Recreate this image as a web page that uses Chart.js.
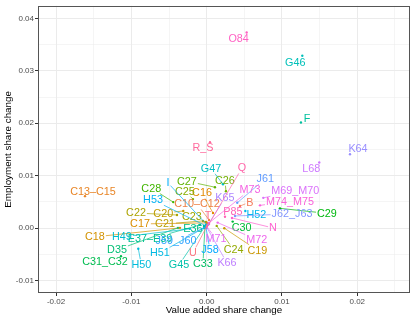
<!DOCTYPE html>
<html lang="en">
<head>
    <meta charset="UTF-8">
    <title>Value added vs employment share change</title>
    <style>
        html, body { margin: 0; padding: 0; background: #fff; }
        #wrap { width: 415px; height: 318px; }
    </style>
    <script src="https://cdn.jsdelivr.net/npm/chart.js"></script>
</head>
<body>
    <div id="wrap"><canvas id="sectorChart" width="415" height="318"></canvas></div>

    <script>
        // Sector codes (factor A is in the palette but has no point)
        const sectors = ['B', 'C10–C12', 'C13–C15', 'C16', 'C17', 'C18', 'C19', 'C20', 'C21', 'C22',
            'C23', 'C24', 'C25', 'C26', 'C27', 'C28', 'C29', 'C30', 'C31_C32', 'C33',
            'D35', 'E36', 'E37–E39', 'F', 'G45', 'G46', 'G47', 'H49', 'H50', 'H51',
            'H52', 'H53', 'I', 'J58', 'J59_J60', 'J61', 'J62_J63', 'K64', 'K65', 'K66',
            'L68', 'M69_M70', 'M71', 'M72', 'M73', 'M74_M75', 'N', 'O84', 'P85', 'Q',
            'R_S', 'T', 'U'];

        // Value added share change (x)
        const vaChange = [0.00442, 0.00031, -0.01616, 0.00084, 0.00004, -0.00355, 0.00234, -0.00311, -0.00049, -0.00394,
            -0.00010, 0.00133, -0.00182, 0.00256, 0.00110, -0.00444, 0.00973, 0.00345, -0.01138, -0.00023,
            -0.00381, -0.00036, -0.00089, 0.01252, -0.00009, 0.01270, 0.00216, -0.00222, -0.00908, -0.00036,
            0.00513, -0.00009, 0.00004, -0.00009, -0.00009, 0.00406, 0.00376, 0.01903, 0.00017, 0.00004,
            0.01495, 0.00752, 0.00004, 0.00146, 0.00031, 0.00708, 0.00336, 0.00531, 0.00243, 0.00031,
            0.00044, 0.00004, -0.00009];

        // Employment share change (y)
        const empChange = [0.00422, 0.00157, 0.00611, 0.00289, 0.00100, 0.00006, 0.00000, 0.00327, 0.00138, 0.00251,
            0.00119, 0.00043, 0.00554, 0.00705, 0.00781, 0.00497, 0.00378, 0.00125, -0.00533, 0.00025,
            0.00006, 0.00043, 0.00062, 0.02015, 0.00062, 0.03289, 0.00837, -0.00013, -0.00391, 0.00006,
            0.00327, 0.00043, 0.00062, 0.00006, 0.00025, 0.00484, 0.00233, 0.01410, 0.00062, 0.00006,
            0.01253, 0.00578, 0.00025, 0.00106, 0.00100, 0.00435, 0.00195, 0.03730, 0.00219, 0.00081,
            0.01637, 0.00043, 0.00006];

        // Repelled label placement: pixel offset of each label from its point
        const labelDx = [10, -12, 8, -11, -67, -85, 33, -20, -38, -41,
            -14, 17, -8, -1, -28, -22, 47, 9, -16, -2,
            -61, -11, -50, 6, -27, -7, -12, -68, 3, -44,
            11, -53, -39, 4, -30, 28, 57, 8, 17, 20,
            -8, 32, 9, 39, 41, 30, 41, -8, 8, 33,
            -7, 1, -13];
        const labelDy = [-4, -16, -5, -20, 1, 9, 22, 2, 3, -2,
            -5, 24, -8, -11, -6, -14, 5, 6, 5, 37,
            22, 3, 14, -4, 40, 7, -16, 8, 16, 25,
            3, -26, -42, 22, 14, -24, -2, -6, -27, 35,
            6, -7, 12, 17, -33, -4, 10, 6, -5, -56,
            5, -10, 25];

        const xTicks = [-0.02, -0.01, 0.00, 0.01, 0.02];
        const yTicks = [-0.01, 0.00, 0.01, 0.02, 0.03, 0.04];

        // ggplot's default hue palette, hcl(h, c = 100, l = 65)
        function hueColour(h) {
            const L = 65, C = 100;
            const hr = h * Math.PI / 180;
            const u = C * Math.cos(hr), v = C * Math.sin(hr);
            const Xn = 95.047, Yn = 100, Zn = 108.883;
            const un = 4 * Xn / (Xn + 15 * Yn + 3 * Zn);
            const vn = 9 * Yn / (Xn + 15 * Yn + 3 * Zn);
            const Y = Yn * Math.pow((L + 16) / 116, 3);
            const up = u / (13 * L) + un, vp = v / (13 * L) + vn;
            const X = Y * 9 * up / (4 * vp);
            const Z = Y * (12 - 3 * up - 20 * vp) / (4 * vp);
            const lin = [
                3.2404542 * X - 1.5371385 * Y - 0.4985314 * Z,
                -0.9692660 * X + 1.8760108 * Y + 0.0415560 * Z,
                0.0556434 * X - 0.2040259 * Y + 1.0572252 * Z
            ].map(c => c / 100);
            const rgb = lin.map(c => {
                c = c <= 0.0031308 ? 12.92 * c : 1.055 * Math.pow(c, 1 / 2.4) - 0.055;
                return Math.round(Math.max(0, Math.min(1, c)) * 255);
            });
            return 'rgb(' + rgb.join(',') + ')';
        }
        const nLevels = sectors.length + 1;
        const colours = sectors.map((s, i) => hueColour(15 + (i + 1) * 360 / nLevels));

        const isMajor = (v, ticks) => ticks.some(t => Math.abs(t - v) < 1e-9);
        const font = '"Liberation Sans", Arial, Helvetica, sans-serif';

        // labels + leader segments, drawn like ggrepel
        const repelLabels = {
            id: 'repelLabels',
            afterDatasetsDraw(chart) {
                const { ctx, scales: { x, y } } = chart;
                ctx.save();
                ctx.font = '10.8px ' + font;
                ctx.textAlign = 'center';
                ctx.textBaseline = 'middle';
                sectors.forEach((name, i) => {
                    const px = x.getPixelForValue(vaChange[i]);
                    const py = y.getPixelForValue(empChange[i]);
                    const lx = px + labelDx[i], ly = py + labelDy[i];
                    const hw = ctx.measureText(name).width / 2 + 1, hh = 5.5;
                    const dx = px - lx, dy = py - ly;
                    if (Math.abs(dx) > hw || Math.abs(dy) > hh) {
                        const t = Math.min(dx ? hw / Math.abs(dx) : Infinity, dy ? hh / Math.abs(dy) : Infinity);
                        const sx = lx + dx * t, sy = ly + dy * t;
                        if (Math.hypot(px - sx, py - sy) > 3) {
                            ctx.strokeStyle = colours[i];
                            ctx.lineWidth = 0.7;
                            ctx.beginPath();
                            ctx.moveTo(sx, sy);
                            ctx.lineTo(px, py);
                            ctx.stroke();
                        }
                    }
                    ctx.fillStyle = colours[i];
                    ctx.fillText(name, lx, ly + 0.5);
                });
                ctx.restore();
            }
        };

        const panelBorder = {
            id: 'panelBorder',
            afterDraw(chart) {
                const { ctx, chartArea: a } = chart;
                ctx.save();
                ctx.strokeStyle = '#555555';
                ctx.lineWidth = 1;
                ctx.strokeRect(Math.round(a.left) + 0.5, Math.round(a.top) + 0.5,
                    Math.round(a.right - a.left) - 1, Math.round(a.bottom - a.top) - 1);
                ctx.restore();
            }
        };

        function axis(min, max, ticks, title) {
            return {
                type: 'linear',
                min: min,
                max: max,
                border: { display: false },
                grid: {
                    color: '#EBEBEB',
                    lineWidth: c => isMajor(c.tick.value, ticks) ? 1 : 0.5,
                    tickColor: c => isMajor(c.tick.value, ticks) ? '#333333' : 'rgba(0,0,0,0)',
                    tickLength: 3,
                    tickWidth: 1
                },
                ticks: {
                    stepSize: 0.005,
                    includeBounds: false,
                    autoSkip: false,
                    maxRotation: 0,
                    padding: 1,
                    color: '#4D4D4D',
                    font: { family: font, size: 8 },
                    callback: v => isMajor(v, ticks) ? v.toFixed(2) : ''
                },
                title: {
                    display: true,
                    text: title,
                    color: '#000000',
                    font: { family: font, size: 9.8 },
                    padding: { top: 2.5, bottom: 2 }
                }
            };
        }

        const xAxis = axis(-0.0224, 0.0270, xTicks, 'Value added share change');
        xAxis.afterFit = scale => { scale.height = 25; };
        const yAxis = axis(-0.01236, 0.0424, yTicks, 'Employment share change');
        yAxis.afterFit = scale => { scale.width = 38; };

        new Chart(document.getElementById('sectorChart'), {
            type: 'scatter',
            data: {
                datasets: [{
                    data: sectors.map((s, i) => ({ x: vaChange[i], y: empChange[i] })),
                    backgroundColor: colours,
                    borderWidth: 0,
                    pointRadius: 1.2
                }]
            },
            options: {
                responsive: false,
                animation: false,
                devicePixelRatio: 1,
                events: [],
                layout: { padding: { top: 3, right: 5, left: 0, bottom: 0 } },
                plugins: { legend: { display: false }, tooltip: { enabled: false } },
                scales: { x: xAxis, y: yAxis }
            },
            plugins: [repelLabels, panelBorder]
        });
    </script>
</body>
</html>
